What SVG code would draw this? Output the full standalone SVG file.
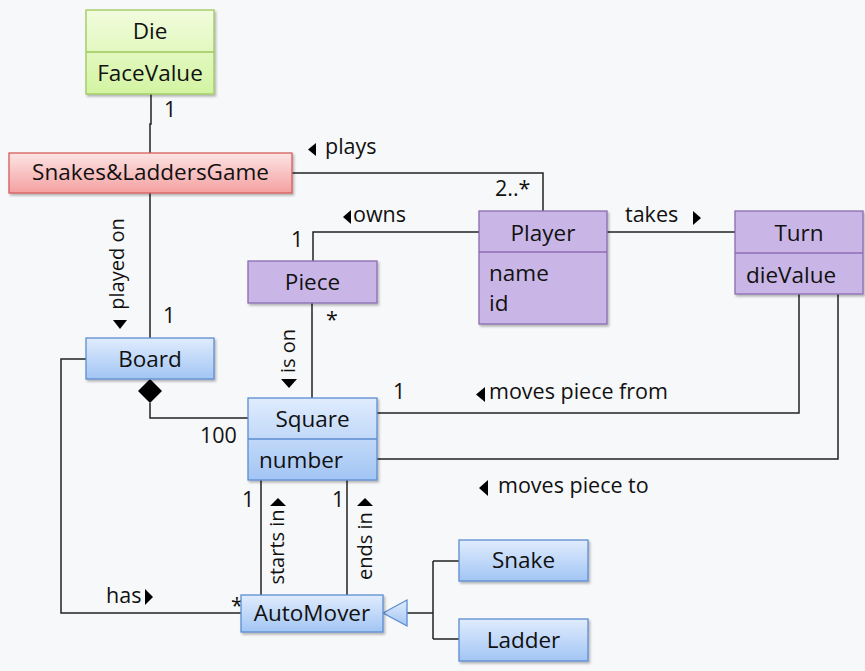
<svg xmlns="http://www.w3.org/2000/svg" width="865" height="671" viewBox="0 0 865 671">
<defs>
<linearGradient id="gBlue" x1="0" y1="0" x2="0" y2="1"><stop offset="0" stop-color="#e0ecfd"/><stop offset="1" stop-color="#a2c5f4"/></linearGradient>
<linearGradient id="gGreen" x1="0" y1="0" x2="0" y2="1"><stop offset="0" stop-color="#f1fcdd"/><stop offset="1" stop-color="#d3f4a2"/></linearGradient>
<linearGradient id="gRed" x1="0" y1="0" x2="0" y2="1"><stop offset="0" stop-color="#fde4e4"/><stop offset="1" stop-color="#f4a0a0"/></linearGradient>
<filter id="sh" x="-10%" y="-10%" width="130%" height="140%"><feDropShadow dx="1.5" dy="2" stdDeviation="1.2" flood-color="#000" flood-opacity="0.28"/></filter>
<style>
.t{font-family:"Open Sans","Liberation Sans",sans-serif;fill:#111}
.box{font-size:22.5px}
.lbl{font-size:21.5px}
.rot{font-size:20px}
.blue{fill:url(#gBlue);stroke:#5c8dd0;stroke-width:1.3;filter:url(#sh)}
.green{fill:url(#gGreen);stroke:#9cc95c;stroke-width:1.3;filter:url(#sh)}
.red{fill:url(#gRed);stroke:#d45c5c;stroke-width:1.3;filter:url(#sh)}
.purple{fill:#c9b6e6;stroke:#8b6cb1;stroke-width:1.3;filter:url(#sh)}
.dg{fill:none;stroke:#9cc95c;stroke-width:1.3}
.db{fill:none;stroke:#5c8dd0;stroke-width:1.3}
.dp{fill:none;stroke:#8b6cb1;stroke-width:1.3}
.ln{fill:none;stroke:#222;stroke-width:1.5}
.tri{fill:#000}
</style>
</defs>
<rect width="865" height="671" fill="#f7f8fa"/>

<g id="connectors">
<path class="ln" d="M151,94 V124 H150 V153"/>
<path class="ln" d="M150,193 V338"/>
<path class="ln" d="M292,173 H543 V211"/>
<path class="ln" d="M479,232 H313 V261"/>
<path class="ln" d="M607,232 H735"/>
<path class="ln" d="M312,303 V398"/>
<path class="ln" d="M150,403 V418 H248"/>
<polygon points="150,379 162,391 150,403 138,391" fill="#000"/>
<path class="ln" d="M799,294 V413 H377"/>
<path class="ln" d="M838,294 V459 H377"/>
<path class="ln" d="M261,480 V595"/>
<path class="ln" d="M347,480 V595"/>
<path class="ln" d="M86,359 H61 V613 H241"/>
<path class="ln" d="M407,613 H433 M433,561 V639 M433,561 H459 M433,639 H459"/>
<polygon points="383,613 407,600 407,626" fill="url(#gBlue)" stroke="#5c8dd0" stroke-width="1.3"/>
</g>

<g id="labels">
<text class="t lbl" x="164" y="117">1</text>
<polygon class="tri" points="308,149.5 316,143 316,156"/>
<text class="t lbl" x="325" y="154">plays</text>
<text class="t lbl" x="495" y="196">2..*</text>
<polygon class="tri" points="343,217 351,210 351,224"/>
<text class="t lbl" x="353" y="222">owns</text>
<text class="t lbl" x="291" y="247">1</text>
<text class="t lbl" x="625" y="222">takes</text>
<polygon class="tri" points="701,218 693,211 693,225"/>
<text class="t rot" transform="translate(124,264) rotate(-90)" text-anchor="middle">played on</text>
<polygon class="tri" points="120,329 113,320 127,320"/>
<text class="t lbl" x="163" y="323">1</text>
<text class="t lbl" x="326" y="327">*</text>
<text class="t rot" transform="translate(295,351) rotate(-90)" text-anchor="middle">is on</text>
<polygon class="tri" points="289,388 281,379 297,379"/>
<text class="t lbl" x="200" y="443">100</text>
<text class="t lbl" x="393" y="399">1</text>
<polygon class="tri" points="476,394.5 485,387 485,402"/>
<text class="t lbl" x="489" y="399">moves piece from</text>
<polygon class="tri" points="479,488 488,480 488,496"/>
<text class="t lbl" x="498" y="493">moves piece to</text>
<text class="t lbl" x="242" y="507">1</text>
<text class="t lbl" x="332" y="507">1</text>
<polygon class="tri" points="278,498 270,506 286,506"/>
<text class="t rot" transform="translate(284,547) rotate(-90)" text-anchor="middle">starts in</text>
<polygon class="tri" points="365,498 357,506 373,506"/>
<text class="t rot" transform="translate(372,546) rotate(-90)" text-anchor="middle">ends in</text>
<text class="t lbl" x="106" y="603">has</text>
<polygon class="tri" points="153,597 145,589 145,605"/>
<text class="t lbl" x="231" y="613">*</text>
</g>

<g id="Die">
<rect class="green" x="86" y="10" width="128" height="84"/>
<line class="dg" x1="86" y1="52" x2="214" y2="52"/>
<text class="t box" x="150" y="39" text-anchor="middle">Die</text>
<text class="t box" x="150" y="81" text-anchor="middle">FaceValue</text>
</g>

<g id="Game">
<rect class="red" x="9" y="153" width="283" height="40"/>
<text class="t box" x="150.5" y="180" text-anchor="middle">Snakes&amp;LaddersGame</text>
</g>

<g id="Player">
<rect class="purple" x="479" y="211" width="128" height="113"/>
<line class="dp" x1="479" y1="252" x2="607" y2="252"/>
<text class="t box" x="543" y="241" text-anchor="middle">Player</text>
<text class="t box" x="489" y="281">name</text>
<text class="t box" x="489" y="311">id</text>
</g>

<g id="Turn">
<rect class="purple" x="735" y="211" width="128" height="83"/>
<line class="dp" x1="735" y1="253" x2="863" y2="253"/>
<text class="t box" x="799" y="241" text-anchor="middle">Turn</text>
<text class="t box" x="746" y="283">dieValue</text>
</g>

<g id="Piece">
<rect class="purple" x="248" y="261" width="129" height="42"/>
<text class="t box" x="312.5" y="290" text-anchor="middle">Piece</text>
</g>

<g id="Board">
<rect class="blue" x="86" y="338" width="128" height="41"/>
<text class="t box" x="150" y="367" text-anchor="middle">Board</text>
</g>

<g id="Square">
<rect class="blue" x="248" y="398" width="129" height="82"/>
<line class="db" x1="248" y1="439" x2="377" y2="439"/>
<text class="t box" x="312.5" y="427" text-anchor="middle">Square</text>
<text class="t box" x="259" y="468">number</text>
</g>

<g id="AutoMover">
<rect class="blue" x="241" y="595" width="142" height="37"/>
<text class="t box" x="312" y="621" text-anchor="middle">AutoMover</text>
</g>

<g id="Snake">
<rect class="blue" x="459" y="540" width="129" height="41"/>
<text class="t box" x="523.5" y="568" text-anchor="middle">Snake</text>
</g>

<g id="Ladder">
<rect class="blue" x="459" y="619" width="129" height="42"/>
<text class="t box" x="523.5" y="648" text-anchor="middle">Ladder</text>
</g>
</svg>
